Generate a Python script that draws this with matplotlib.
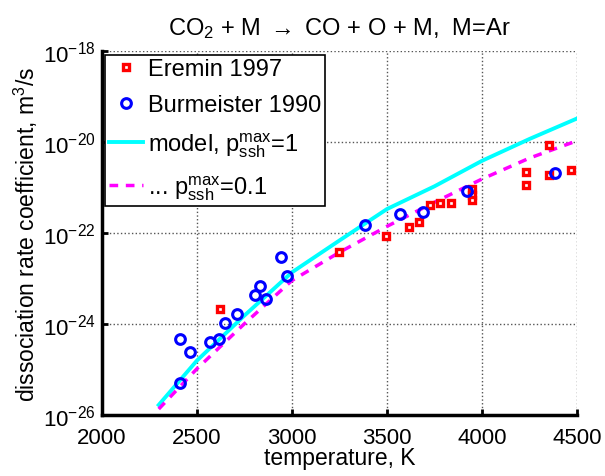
import matplotlib
matplotlib.use('Agg')
import matplotlib.pyplot as plt
import numpy as np
from matplotlib.ticker import FixedLocator, NullLocator

plt.rcParams['font.family'] = ['Liberation Sans', 'DejaVu Sans']
plt.rcParams['mathtext.fontset'] = 'custom'
plt.rcParams['mathtext.rm'] = 'Liberation Sans'
plt.rcParams['mathtext.it'] = 'Liberation Sans:italic'
plt.rcParams['mathtext.bf'] = 'Liberation Sans:bold'
plt.rcParams['mathtext.fallback'] = 'stixsans'

# Eremin 1997 (temperature K, log10 k)
eremin_T = [2620, 3250, 3495, 3615, 3670, 3725, 3780, 3835, 3945, 3945, 3945, 4230, 4230, 4350, 4350, 4470]
eremin_logk = [-23.67, -22.42, -22.07, -21.86, -21.75, -21.39, -21.34, -21.34, -21.02, -21.16, -21.27,
               -20.66, -20.94, -20.06, -20.72, -20.61]

# Burmeister 1990
burm_T = [2413, 2413, 2465, 2571, 2618, 2649, 2711, 2807, 2833, 2865, 2942, 2974, 3382, 3569, 3689, 3920, 4385]
burm_logk = [-24.32, -25.28, -24.61, -24.39, -24.32, -23.97, -23.78, -23.36, -23.15, -23.44, -22.53,
             -22.93, -21.82, -21.58, -21.54, -21.08, -20.68]

# model curves
model_T = [2300, 2500, 2750, 3000, 3250, 3500, 3750, 4000, 4250, 4500]
model_logk_1 = [-25.77, -24.80, -23.81, -22.86, -22.16, -21.47, -20.97, -20.41, -19.93, -19.48]
model_logk_01 = [-25.86, -24.98, -23.99, -23.04, -22.42, -21.85, -21.32, -20.81, -20.35, -19.97]

fig = plt.figure(figsize=(6.05, 4.77), dpi=100)
ax = fig.add_axes([0.168, 0.127, 0.786, 0.764])

fs = 16
ax.plot(eremin_T, 10.0 ** np.array(eremin_logk), 's', color='red', mfc='white', mec='red',
        ms=5, mew=2.4, linestyle='none', label='Eremin 1997', zorder=3)
ax.plot(burm_T, 10.0 ** np.array(burm_logk), 'o', mfc='none', mec='blue',
        ms=7, mew=2.2, linestyle='none', label='Burmeister 1990', zorder=4)
ax.plot(model_T, 10.0 ** np.array(model_logk_1), '-', color='cyan', lw=2.8,
        label=r'model, $\mathrm{p}_{\mathrm{ssh}}^{\mathrm{max}}$=1', zorder=2)
ax.plot(model_T, 10.0 ** np.array(model_logk_01), '--', color='magenta', lw=2.5,
        dashes=(2.5, 2.2), label=r'... $\mathrm{p}_{\mathrm{ssh}}^{\mathrm{max}}$=0.1', zorder=2)

ax.set_yscale('log')
ax.set_xlim(2000, 4500)
ax.set_ylim(1e-26, 1e-18)
ax.set_xticks([2000, 2500, 3000, 3500, 4000, 4500])
yt = [1e-26, 1e-24, 1e-22, 1e-20, 1e-18]
ax.yaxis.set_major_locator(FixedLocator(yt))
ax.yaxis.set_minor_locator(NullLocator())
ax.set_yticklabels([r'$10^{-26}$', r'$10^{-24}$', r'$10^{-22}$', r'$10^{-20}$', r'$10^{-18}$'])
ax.tick_params(direction='in', length=4, width=2, labelsize=fs)
ax.tick_params(axis='x', pad=8)
ax.tick_params(axis='y', pad=4)
ax.grid(True, linestyle=':', color='#555555', lw=1)

for s in ['top', 'right']:
    ax.spines[s].set_visible(False)
for s in ['left', 'bottom']:
    ax.spines[s].set_linewidth(2.5)

ax.set_xlabel('temperature, K', fontsize=16.5, labelpad=-1)
ax.set_ylabel(r'dissociation rate coefficient, m$^3$/s', fontsize=16.5, labelpad=2)
ax.set_title(r'CO$_2$ + M $\rightarrow$ CO + O + M,  M=Ar', fontsize=17, pad=12)

leg = ax.legend(loc='upper left', bbox_to_anchor=(0.008, 0.99), fontsize=17, numpoints=1,
                handlelength=1.45, handletextpad=0.2, borderpad=0.15, labelspacing=0.6,
                fancybox=False, framealpha=1, edgecolor='black', borderaxespad=0)
leg.get_frame().set_linewidth(1.2)

plt.savefig('out.png', dpi=100)
